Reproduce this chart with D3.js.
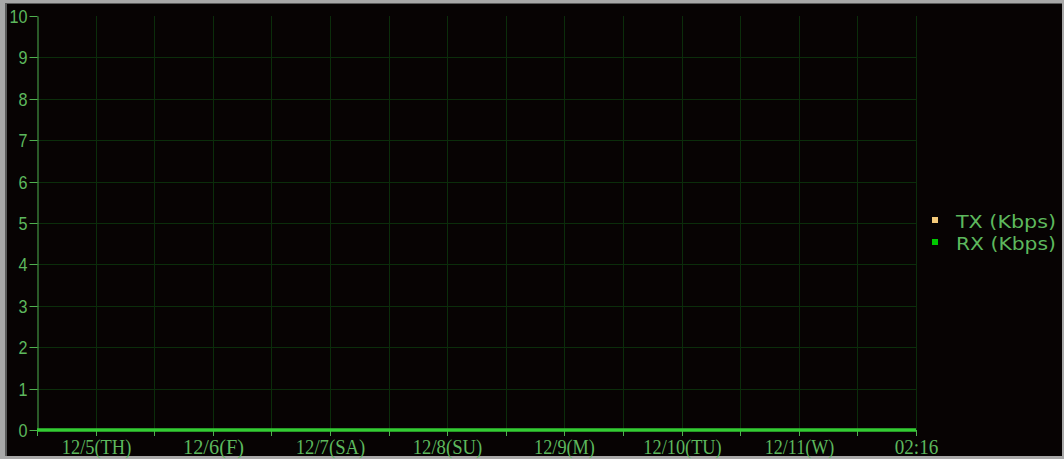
<!DOCTYPE html>
<html>
<head>
<meta charset="utf-8">
<script src="https://cdn.jsdelivr.net/npm/d3@7"></script>
<style>
  body{margin:0;background:#fff;}
  svg{display:block;}
</style>
</head>
<body>
<div id="chart"></div>
<script>
// data (all traffic is zero)
var xTickLabels = ["12/5(TH)","12/6(F)","12/7(SA)","12/8(SU)","12/9(M)","12/10(TU)","12/11(W)","02:16"];
var slots = [0,1,2,3,4,5,6,7,8,9,10,11,12,13,14,15];   // 15 half-day intervals
var txValues = [0,0,0,0,0,0,0,0,0,0,0,0,0,0,0,0];
var rxValues = [0,0,0,0,0,0,0,0,0,0,0,0,0,0,0,0];
var yTicks = [0,1,2,3,4,5,6,7,8,9,10];
var seriesNames = ["TX (Kbps)","RX (Kbps)"];
var seriesColors = ["#f3c97a","#00c800"];

var W = 1064, H = 459;
var pLeft = 37, pRight = 916, pTop = 16, pBottom = 430;
var txtColor = "#5db85d";
var gridColor = "#0b2d0b";

var svg = d3.select("#chart").append("svg")
  .attr("width",W).attr("height",H);

// frame
svg.append("rect").attr("x",0).attr("y",0).attr("width",W).attr("height",H).attr("fill","#a8a8a8");
svg.append("rect").attr("x",5).attr("y",3).attr("width",W-7).attr("height",H-6).attr("fill","#5a5a5a");
svg.append("rect").attr("x",7).attr("y",4).attr("width",W-9).attr("height",H-7).attr("fill","#070303");

var x = d3.scaleLinear().domain([0,15]).range([pLeft,pRight]);
var y = d3.scaleLinear().domain([0,10]).range([pBottom,pTop]);

// grid
svg.append("g").selectAll("line").data(yTicks.filter(function(d){return d>0 && d<10;}))
  .enter().append("line")
  .attr("x1",pLeft).attr("x2",pRight)
  .attr("y1",function(d){return Math.round(y(d))+0.5;}).attr("y2",function(d){return Math.round(y(d))+0.5;})
  .attr("stroke",gridColor).attr("stroke-width",1);
svg.append("g").selectAll("line").data(slots.filter(function(d){return d>0;}))
  .enter().append("line")
  .attr("x1",function(d){return Math.round(x(d))+0.5;}).attr("x2",function(d){return Math.round(x(d))+0.5;})
  .attr("y1",pTop).attr("y2",pBottom)
  .attr("stroke",gridColor).attr("stroke-width",1);

// y axis
var yAxis = d3.axisLeft(y).tickValues(yTicks).tickSize(8).tickPadding(2).tickSizeOuter(0);
var gy = svg.append("g").attr("transform","translate("+(pLeft+0.5)+",0)").call(yAxis);
gy.select(".domain").attr("stroke","#4fb04f");
gy.selectAll(".tick").attr("transform",function(d){return "translate(0,"+(Math.round(y(d))+0.5)+")";});
gy.selectAll(".tick line").attr("stroke","#4fb04f");
gy.selectAll(".tick text").attr("fill",txtColor)
  .style("font-family","'Liberation Sans Narrow','Liberation Sans', sans-serif").style("font-size","19px")
  .attr("textLength",function(d){return String(d).length*9;})
  .attr("lengthAdjust","spacingAndGlyphs");

// x axis
var xAxis = d3.axisBottom(x).tickValues(slots).tickSize(6).tickSizeOuter(0)
  .tickFormat(function(d){return d%2===1 ? xTickLabels[(d-1)/2] : "";});
var gx = svg.append("g").attr("transform","translate(0,"+pBottom+")").call(xAxis);
gx.select(".domain").remove();
gx.selectAll(".tick").attr("transform",function(d){return "translate("+(Math.round(x(d))+0.5)+",0)";});
gx.selectAll(".tick line").attr("stroke","#4fb04f");
gx.selectAll(".tick text").attr("fill",txtColor).attr("y",10)
  .style("font-family","'Liberation Serif', serif").style("font-size","20px")
  .attr("textLength",function(d){return d%2===1 ? xTickLabels[(d-1)/2].length*8.7 : null;})
  .attr("lengthAdjust","spacingAndGlyphs");

// series lines (both zero, drawn along the bottom)
var line = d3.line().x(function(d,i){return x(i);}).y(function(d){return y(d);});
svg.append("path").datum(txValues).attr("d",line).attr("fill","none")
  .attr("stroke","#33cc33").attr("stroke-width",3);
svg.append("path").datum(rxValues).attr("d",line).attr("fill","none")
  .attr("stroke","#33cc33").attr("stroke-width",3);

// legend
var lg = svg.append("g").attr("transform","translate(932,217)");
var item = lg.selectAll("g").data(seriesNames).enter().append("g")
  .attr("transform",function(d,i){return "translate(0,"+(i*22)+")";});
item.append("rect").attr("width",6).attr("height",6)
  .attr("fill",function(d,i){return seriesColors[i];});
item.append("text").attr("x",24).attr("y",11).text(String)
  .attr("fill",txtColor)
  .attr("textLength",100).attr("lengthAdjust","spacingAndGlyphs")
  .style("font-family","'DejaVu Sans', sans-serif").style("font-size","18px");
</script>
</body>
</html>
